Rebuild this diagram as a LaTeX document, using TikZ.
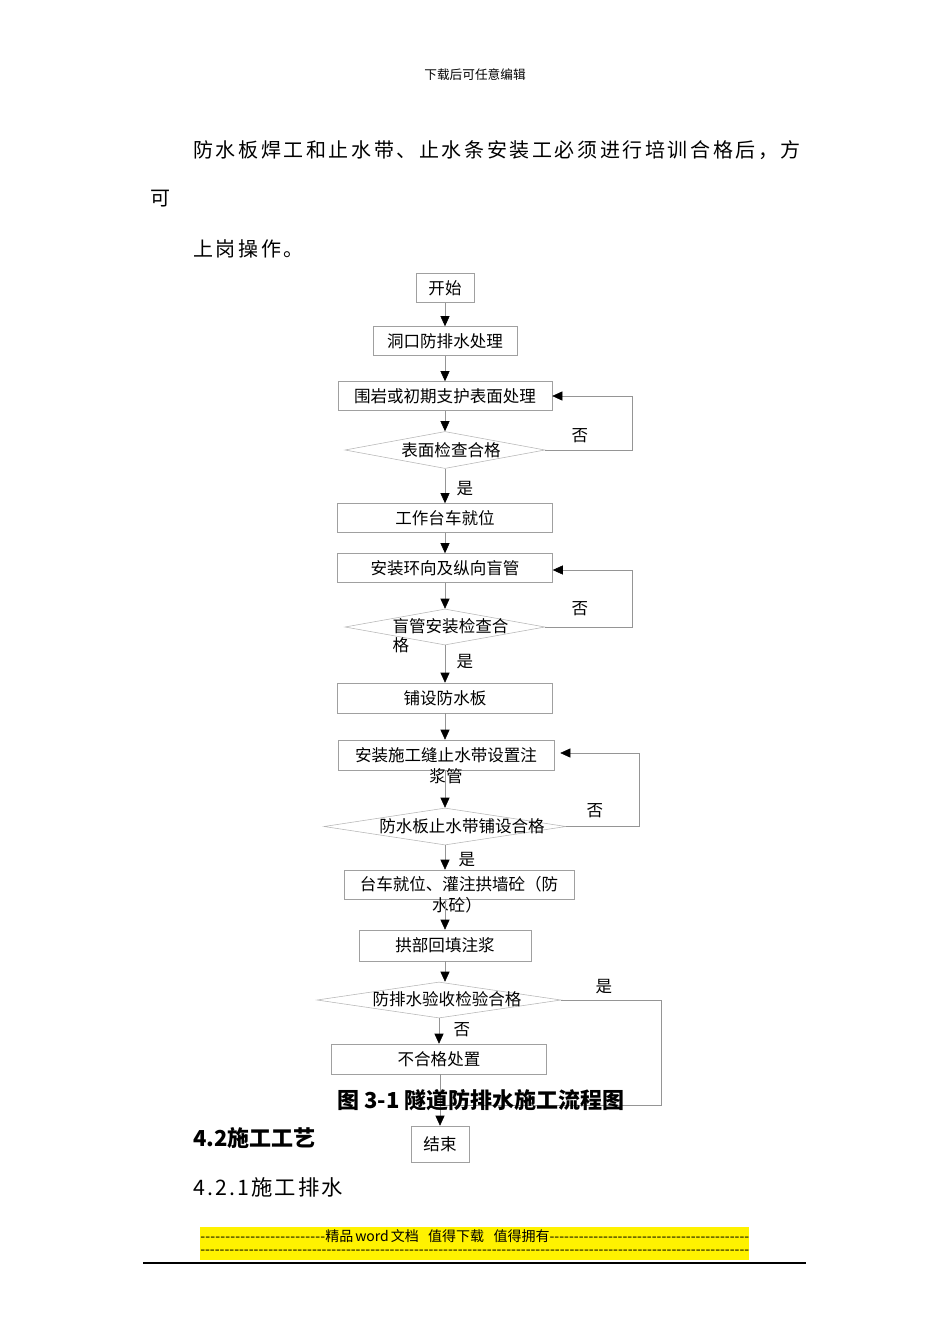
\documentclass[tikz,border=0pt]{standalone}
\usepackage{fontspec}
\setmainfont{Noto Sans CJK SC}
\usetikzlibrary{shapes.geometric,arrows.meta}
\definecolor{boxgray}{HTML}{A0A0A0}
\definecolor{diagray}{HTML}{B4B4B4}
\definecolor{linegray}{HTML}{959595}
\begin{document}
\begin{tikzpicture}[x=0.75pt,y=-0.75pt,
    box/.style={draw=boxgray,shape=rectangle,inner sep=0pt,minimum height=21.75pt,font=\fontsize{12.4}{15}\selectfont},
    dia/.style={draw=diagray,shape=diamond,inner sep=0pt,minimum height=27.75pt},
    txt/.style={inner sep=0pt,font=\fontsize{12.4}{14.25}\selectfont},
    para/.style={inner sep=0pt,anchor=west,font=\fontsize{15}{18}\selectfont\addfontfeature{LetterSpace=13}},
    arr/.style={draw=linegray,-{Triangle[color=black,length=7.5pt,width=6.75pt]}}]
        \fill[white] (0,0) rectangle (950,1344);
        \useasboundingbox (0,0) rectangle (950,1344);
        % page text
        \draw (475,75) node (head) [inner sep=0pt,font=\fontsize{9.5}{11}\selectfont] {下载后可任意编辑};
        \draw (193,150) node (p1) [para] {防水板焊工和止水带、止水条安装工必须进行培训合格后，方};
        \draw (150,199) node (p2) [para] {可};
        \draw (193,249) node (p3) [para] {上岗操作。};
        % flow boxes
        \draw (445,288) node (start) [box,minimum width=43.5pt] {开始};
        \draw (445,341) node (dk) [box,minimum width=108pt] {洞口防排水处理};
        \draw (445,396) node (wy) [box,minimum width=160.5pt] {围岩或初期支护表面处理};
        \draw (445,450) node (d1) [dia,minimum width=150pt] {};
        \draw (451,450) node (d1t) [txt] {表面检查合格};
        \draw (445,518) node (gz) [box,minimum width=161.25pt] {工作台车就位};
        \draw (445,568) node (mg) [box,minimum width=161.25pt] {安装环向及纵向盲管};
        \draw (445,627) node (d2) [dia,minimum width=150pt,minimum height=27pt] {};
        \draw (450.5,636) node (d2t) [txt,align=left] {盲管安装检查合\\格};
        \draw (445,698) node (pb) [box,minimum width=161.25pt,minimum height=22.5pt] {铺设防水板};
        \draw (446,755) node (zs) [box,minimum width=162pt,minimum height=22.5pt] {安装施工缝止水带设置注};
        \draw (446,776) node (zst) [txt] {浆管};
        \draw (445,826.5) node (d3) [dia,minimum width=181.5pt] {};
        \draw (462,826) node (d3t) [txt] {防水板止水带铺设合格};
        \draw (459,884.5) node (tc) [box,minimum width=172.5pt] {台车就位、灌注拱墙砼（防};
        \draw (457,905) node (tct) [txt] {水砼）};
        \draw (445,945.5) node (gb) [box,minimum width=129pt,minimum height=23.25pt] {拱部回填注浆};
        \draw (439,1000) node (d4) [dia,minimum width=183pt,minimum height=27pt] {};
        \draw (447,999) node (d4t) [txt] {防排水验收检验合格};
        \draw (439,1059) node (bh) [box,minimum width=161.25pt,minimum height=22.5pt] {不合格处置};
        \draw (440,1144) node (end) [box,minimum width=43.5pt,minimum height=27pt] {结束};
        \coordinate (jn) at (440,1105);
        % yes / no
        \draw (580,436) node (n1) [txt] {否};
        \draw (465,489) node (y1) [txt] {是};
        \draw (580,609) node (n2) [txt] {否};
        \draw (465,662) node (y2) [txt] {是};
        \draw (595,811) node (n3) [txt] {否};
        \draw (467,860) node (y3) [txt] {是};
        \draw (604,987) node (y4) [txt] {是};
        \draw (462,1030) node (n4) [txt] {否};
        % connectors
        \draw[arr] (start) -- (dk);
        \draw[arr] (dk) -- (wy);
        \draw[arr] (wy) -- (d1);
        \draw[arr] (d1) -- (gz);
        \draw[arr] (d1.east) -- ++(87,0) |- (wy.east);
        \draw[arr] (gz) -- (mg);
        \draw[arr] (mg) -- (d2);
        \draw[arr] (d2.east) -- ++(87,0) |- ([yshift=-1.5pt]mg.east);
        \draw[arr] (d2) -- (pb);
        \draw[arr] (pb) -- (d3.north |- zs.north);
        \draw[arr] (d3.north |- zs.south) -- (d3);
        \draw[arr,shorten >=4.5pt] (d3.east) -- ++(73,0) |- ([yshift=1.5pt]zs.east);
        \draw[arr] (d3.south) -- (d3.south |- tc.north);
        \draw[arr] (gb.north |- tc.south) -- (gb);
        \draw[arr] (gb.south) -- (gb.south |- d4.north);
        \draw[arr] (d4.south) -- (bh);
        \draw[linegray] (d4.east) -- ++(100,0) |- (jn);
        \draw[arr] (end.north |- bh.south) -- (end);
        % caption and headings
        \draw (337,1100) node (cap) [inner sep=0pt,anchor=west,font=\fontsize{16.5}{19}\selectfont\bfseries] {图 3-1 隧道防排水施工流程图};
        \draw (193,1138) node (h42) [inner sep=0pt,anchor=west,font=\fontsize{16.5}{19}\selectfont\bfseries] {4.2施工工艺};
        \draw (193,1187) node (h421) [inner sep=0pt,anchor=west,font=\fontsize{16}{19}\selectfont\addfontfeature{LetterSpace=10}] {4.2.1施工排水};
        % footer band
        \fill[yellow] (200,1227) rectangle (749,1260);
        \draw (200,1236) node (ft1) [inner sep=0pt,anchor=west,font=\fontsize{10.5}{12}\selectfont] {\hbox to 411.75pt{\hbox to 93.75pt{\xleaders\hbox{-}\hfill}精品\hspace{1.5pt}word\hspace{1.5pt}文档\hspace{7pt}值得下载\hspace{7pt}值得拥有\xleaders\hbox{-}\hfill}};
        \draw (200,1252) node (ft2) [inner sep=0pt,anchor=west,font=\fontsize{10.5}{12}\selectfont] {\hbox to 411.75pt{\xleaders\hbox{-}\hfill}};
        \draw[line width=1.5pt] (143,1263) -- (806,1263);
    \end{tikzpicture}
\end{document}
